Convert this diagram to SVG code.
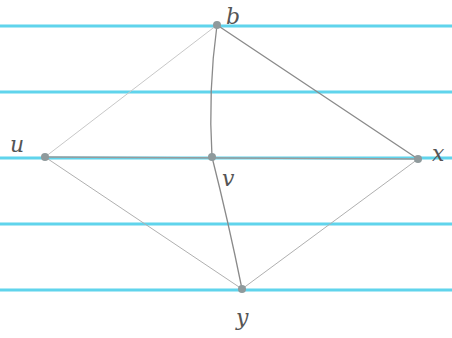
<svg xmlns="http://www.w3.org/2000/svg" width="452" height="338" viewBox="0 0 452 338">
<style>
.rule{stroke:#4fd0ea;stroke-width:3;opacity:0.9}
.e{fill:none;stroke:#8a8a8a;stroke-width:1.3;stroke-linecap:round}
.faint{stroke:#c8c8c8;stroke-width:1}
.dot{fill:#8f9a9c}
.lbl{font-family:"DejaVu Serif","Liberation Serif",serif;font-style:italic;font-size:22px;fill:#555}
</style>
<rect width="452" height="338" fill="#ffffff"/>
<g id="rules">
<line class="rule" x1="0" y1="26" x2="452" y2="26"/>
<line class="rule" x1="0" y1="92" x2="452" y2="92"/>
<line class="rule" x1="0" y1="158" x2="452" y2="158"/>
<line class="rule" x1="0" y1="224" x2="452" y2="224"/>
<line class="rule" x1="0" y1="290" x2="452" y2="290"/>
</g>
<g id="connectors">
<path class="e faint" d="M217,25 L45,157"/>
<path class="e" d="M217,25 Q208,90 212,157"/>
<path class="e" d="M212,157 Q228,220 242,289"/>
<path class="e" d="M217,25 L418,159"/>
<path class="e" d="M45,157 L418,159" style="stroke:#9a9a9a;stroke-width:1.6"/>
<path class="e faint" d="M45,157 L242,289" style="stroke:#b0b0b0"/>
<path class="e faint" d="M418,159 L242,289" style="stroke:#b0b0b0"/>
</g>
<g id="node-b"><circle class="dot" cx="217" cy="25" r="4"/><text class="lbl" x="226" y="24">b</text></g>
<g id="node-u"><circle class="dot" cx="45" cy="157" r="4"/><text class="lbl" x="10" y="152">u</text></g>
<g id="node-v"><circle class="dot" cx="212" cy="157" r="4"/><text class="lbl" x="222" y="186">v</text></g>
<g id="node-x"><circle class="dot" cx="418" cy="159" r="4"/><text class="lbl" x="432" y="161">x</text></g>
<g id="node-y"><circle class="dot" cx="242" cy="289" r="4"/><text class="lbl" x="236" y="325">y</text></g>
</svg>
